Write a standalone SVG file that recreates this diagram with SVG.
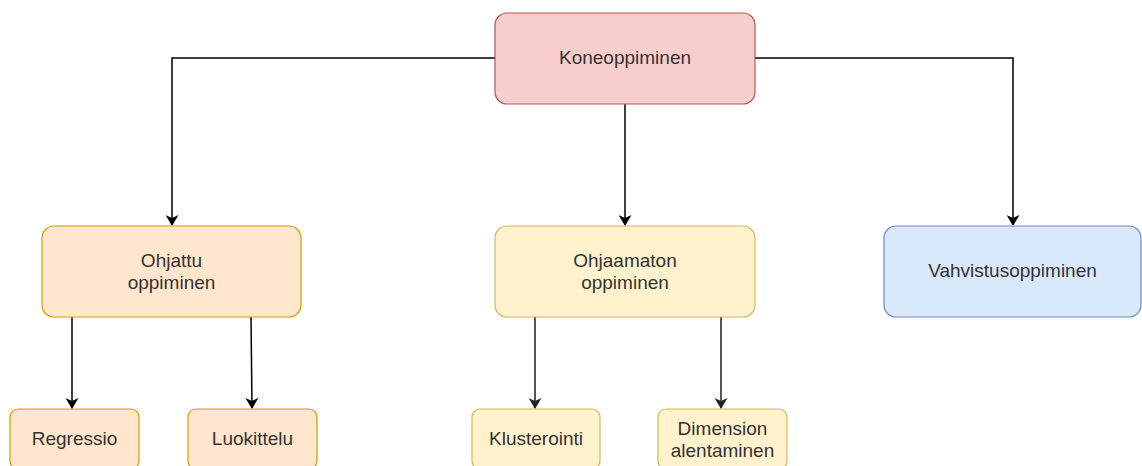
<svg xmlns="http://www.w3.org/2000/svg" width="1142" height="466" viewBox="0 0 1142 466">
  <defs>
    <marker id="arrow" viewBox="0 0 11 13" refX="10" refY="6.5" markerWidth="11" markerHeight="13" markerUnits="userSpaceOnUse" orient="auto">
      <path d="M0,0 L11,6.5 L0,13 L3,6.5 Z" fill="#000"/>
    </marker>
    <marker id="arrow-grey" viewBox="0 0 11 13" refX="10" refY="6.5" markerWidth="11" markerHeight="13" markerUnits="userSpaceOnUse" orient="auto">
      <path d="M0,0 L11,6.5 L0,13 L3,6.5 Z" fill="#222"/>
    </marker>
  </defs>
  <style>
    .label { font-family: "Liberation Sans", Arial, sans-serif; font-size: 19px; fill: #333; text-anchor: middle; dominant-baseline: central; }
    .red { fill: #f8cecc; stroke: #b85450; stroke-width: 1.2; }
    .orange { fill: #ffe6cc; stroke: #d79b00; stroke-width: 1.2; }
    .yellow { fill: #fff2cc; stroke: #d6b656; stroke-width: 1.2; }
    .blue { fill: #dae8fc; stroke: #6c8ebf; stroke-width: 1.2; }
    .edge { fill: none; stroke: #000; stroke-width: 1.5; marker-end: url(#arrow); }
    .edge-grey { fill: none; stroke: #555; stroke-width: 2; marker-end: url(#arrow-grey); }
  </style>

  <rect width="1142" height="466" fill="#fff"/>

  <g id="connectors">
    <path class="edge" d="M495,58 H172 V225"/>
    <path class="edge" d="M755,58 H1013 V225"/>
    <path class="edge" d="M625,104 V225"/>
    <path class="edge" d="M72,317 V408"/>
    <path class="edge" d="M251,317 L252,408"/>
    <path class="edge-grey" d="M535,317 V408"/>
    <path class="edge-grey" d="M721,317 V408"/>
  </g>

  <g id="koneoppiminen">
    <rect class="red" x="495" y="13" width="260" height="91" rx="12"/>
    <text class="label" x="625" y="57">Koneoppiminen</text>
  </g>

  <g id="ohjattu">
    <rect class="orange" x="42" y="226" width="259" height="91" rx="12"/>
    <text class="label" x="171.5" y="260">Ohjattu</text>
    <text class="label" x="171.5" y="282">oppiminen</text>
  </g>

  <g id="ohjaamaton">
    <rect class="yellow" x="495" y="226" width="260" height="91" rx="12"/>
    <text class="label" x="625" y="260">Ohjaamaton</text>
    <text class="label" x="625" y="282">oppiminen</text>
  </g>

  <g id="vahvistus">
    <rect class="blue" x="884" y="226" width="257" height="91" rx="12"/>
    <text class="label" x="1012.5" y="270">Vahvistusoppiminen</text>
  </g>

  <g id="regressio">
    <rect class="orange" x="10" y="409" width="129" height="60" rx="8"/>
    <text class="label" x="74.5" y="438">Regressio</text>
  </g>

  <g id="luokittelu">
    <rect class="orange" x="188" y="409" width="129" height="60" rx="8"/>
    <text class="label" x="252.5" y="438">Luokittelu</text>
  </g>

  <g id="klusterointi">
    <rect class="yellow" x="472" y="409" width="128" height="60" rx="8"/>
    <text class="label" x="536" y="438">Klusterointi</text>
  </g>

  <g id="dimension">
    <rect class="yellow" x="658" y="409" width="129" height="60" rx="8"/>
    <text class="label" x="722.5" y="428">Dimension</text>
    <text class="label" x="722.5" y="450">alentaminen</text>
  </g>
</svg>
